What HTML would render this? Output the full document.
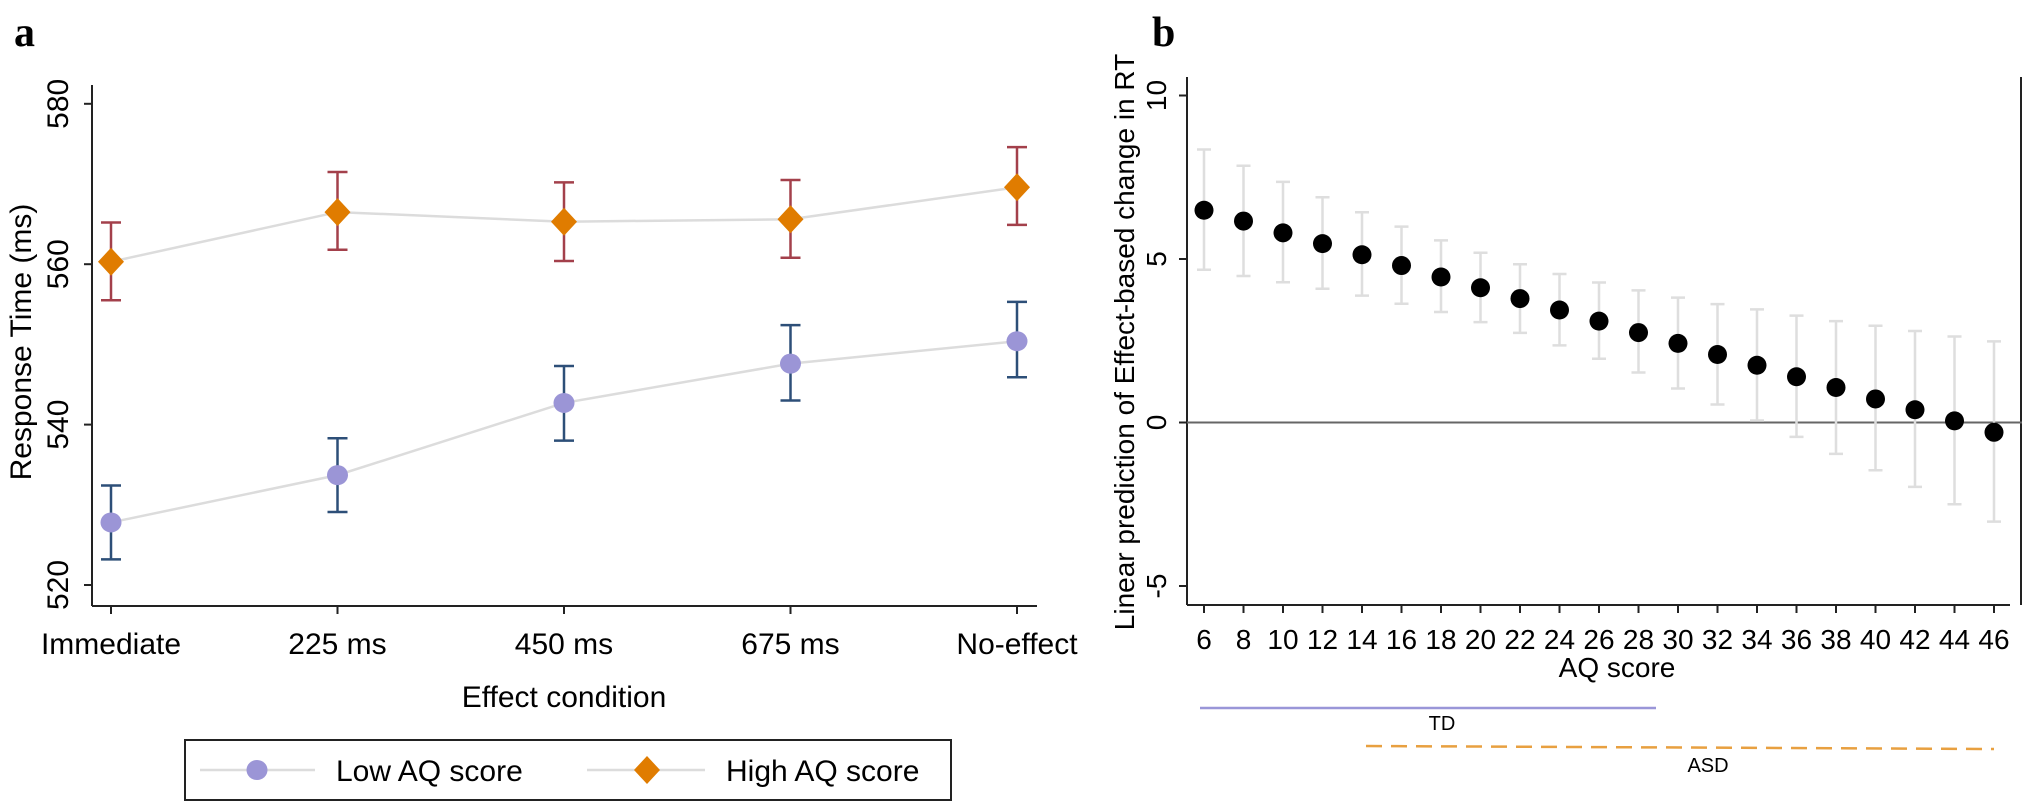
<!DOCTYPE html>
<html><head><meta charset="utf-8"><style>
html,body{margin:0;padding:0;background:#fff;}
svg{display:block;font-family:"Liberation Sans",Arial,sans-serif;}
</style></head><body>
<svg id="fig" width="2024" height="803" viewBox="0 0 2024 803">
<text x="14" y="46" font-family="Liberation Serif,serif" font-weight="bold" font-size="42">a</text>
<text x="1152" y="46" font-family="Liberation Serif,serif" font-weight="bold" font-size="42">b</text>
<g id="pa"></g>
<g id="pb"></g>
</svg>
<script>
// Panel a data
const aCats = ["Immediate","225 ms","450 ms","675 ms","No-effect"];
const aYTicks = [520,540,560,580];
const lowMean = [527.8,533.7,542.7,547.6,550.4];
const lowHi = [532.4,538.3,547.3,552.4,555.3];
const lowLo = [523.2,529.1,538.0,543.0,545.9];
const highMean = [560.3,566.5,565.3,565.6,569.6];
const highHi = [565.2,571.5,570.2,570.5,574.6];
const highLo = [555.5,561.8,560.4,560.8,564.9];
// Panel b data
const bX = [6,8,10,12,14,16,18,20,22,24,26,28,30,32,34,36,38,40,42,44,46];
const bMean = [6.49,6.16,5.80,5.47,5.13,4.80,4.45,4.12,3.79,3.44,3.10,2.75,2.42,2.08,1.75,1.40,1.07,0.72,0.39,0.05,-0.30];
const bHi = [8.35,7.85,7.36,6.89,6.43,5.99,5.57,5.19,4.84,4.54,4.28,4.04,3.82,3.62,3.46,3.27,3.10,2.96,2.80,2.63,2.48];
const bLo = [4.67,4.48,4.29,4.09,3.88,3.63,3.38,3.07,2.74,2.36,1.95,1.53,1.04,0.55,0.06,-0.44,-0.96,-1.46,-1.97,-2.50,-3.03];
const bYTicks = [-5,0,5,10];

const NS="http://www.w3.org/2000/svg";
function mk(parent,tag,attrs,text){const e=document.createElementNS(NS,tag);for(const k in attrs)e.setAttribute(k,attrs[k]);if(text!==undefined)e.textContent=text;parent.appendChild(e);return e;}

// ---- Panel a ----
const pa=document.getElementById('pa');
const ax=i=>111+i*226.5;
const ay=v=>585-(v-520)*8.02;
let e;
e=mk(pa,'line',{x1:92,y1:85,x2:92,y2:606,stroke:'#222','stroke-width':2});

e=mk(pa,'line',{x1:92,y1:606,x2:1037,y2:606,stroke:'#222','stroke-width':2});

aYTicks.forEach(t=>{
  mk(pa,'line',{x1:84,y1:ay(t),x2:92,y2:ay(t),stroke:'#222','stroke-width':2});
  e=mk(pa,'text',{x:0,y:0,'font-size':30,'text-anchor':'middle',transform:`translate(68,${ay(t)}) rotate(-90)`},String(t));
  
});
aCats.forEach((c,i)=>{
  mk(pa,'line',{x1:ax(i),y1:606,x2:ax(i),y2:614,stroke:'#222','stroke-width':2});
  e=mk(pa,'text',{x:ax(i),y:654,'font-size':30,'text-anchor':'middle'},c);
  
});
e=mk(pa,'text',{x:0,y:0,'font-size':30,'text-anchor':'middle',transform:'translate(31,342) rotate(-90)'},'Response Time (ms)');

e=mk(pa,'text',{x:564,y:707,'font-size':30,'text-anchor':'middle'},'Effect condition');

function series(mean,hi,lo,ec,name,shape,fill){
  e=mk(pa,'polyline',{points:mean.map((v,i)=>ax(i)+','+ay(v)).join(' '),fill:'none',stroke:'#dcdcdc','stroke-width':2.5});
  
  mean.forEach((v,i)=>{
    const x=ax(i);
    e=mk(pa,'path',{d:`M${x},${ay(hi[i])}V${ay(lo[i])}M${x-10},${ay(hi[i])}H${x+10}M${x-10},${ay(lo[i])}H${x+10}`,stroke:ec,'stroke-width':2.5,fill:'none'});
    
    const y=ay(v);
    if(shape==='c'){e=mk(pa,'ellipse',{cx:x,cy:y,rx:10.5,ry:10,fill:fill});}
    else{e=mk(pa,'path',{d:`M${x},${y-14}L${x+13},${y}L${x},${y+14}L${x-13},${y}Z`,fill:fill});}
    
  });
}
series(lowMean,lowHi,lowLo,'#2d4f78','low-aq','c','#9b95d6');
series(highMean,highHi,highLo,'#a3404b','high-aq','d','#e07c00');
// legend
const lg=mk(pa,'g',{});

mk(lg,'rect',{x:185,y:740,width:766,height:60,fill:'#fff',stroke:'#222','stroke-width':2});
mk(lg,'line',{x1:200,y1:770,x2:315,y2:770,stroke:'#dcdcdc','stroke-width':2.5});
mk(lg,'ellipse',{cx:257,cy:770,rx:10.5,ry:10,fill:'#9b95d6'});
e=mk(lg,'text',{x:336,y:781,'font-size':30},'Low AQ score');

mk(lg,'line',{x1:587,y1:770,x2:705,y2:770,stroke:'#dcdcdc','stroke-width':2.5});
mk(lg,'path',{d:'M647,756L660,770L647,784L634,770Z',fill:'#e07c00'});
e=mk(lg,'text',{x:726,y:781,'font-size':30},'High AQ score');


// ---- Panel b ----
const pb=document.getElementById('pb');
const bx=v=>1204+(v-6)*19.75;
const by=v=>422.5-v*32.7;
e=mk(pb,'line',{x1:1187,y1:77,x2:1187,y2:605,stroke:'#222','stroke-width':2});

e=mk(pb,'line',{x1:1187,y1:605,x2:2010,y2:605,stroke:'#222','stroke-width':2});

e=mk(pb,'line',{x1:2021,y1:77,x2:2021,y2:605,stroke:'#222','stroke-width':2});

e=mk(pb,'line',{x1:1187,y1:by(0),x2:2022,y2:by(0),stroke:'#666','stroke-width':2});

bYTicks.forEach(t=>{
  mk(pb,'line',{x1:1179,y1:by(t),x2:1187,y2:by(t),stroke:'#222','stroke-width':2});
  e=mk(pb,'text',{x:0,y:0,'font-size':28,'text-anchor':'middle',transform:`translate(1166,${by(t)}) rotate(-90)`},String(t));
  
});
bX.forEach(v=>{
  mk(pb,'line',{x1:bx(v),y1:605,x2:bx(v),y2:613,stroke:'#222','stroke-width':2});
  e=mk(pb,'text',{x:bx(v),y:649,'font-size':28,'text-anchor':'middle'},String(v));
  
});
e=mk(pb,'text',{x:0,y:0,'font-size':28,'text-anchor':'middle',transform:'translate(1134,342) rotate(-90)'},'Linear prediction of Effect-based change in RT');

e=mk(pb,'text',{x:1617,y:677,'font-size':28,'text-anchor':'middle'},'AQ score');

bX.forEach((v,i)=>{
  const x=bx(v);
  e=mk(pb,'path',{d:`M${x},${by(bHi[i])}V${by(bLo[i])}M${x-7},${by(bHi[i])}H${x+7}M${x-7},${by(bLo[i])}H${x+7}`,stroke:'#dedede','stroke-width':2.5,fill:'none'});
  
  e=mk(pb,'ellipse',{cx:x,cy:by(bMean[i]),rx:9.5,ry:9.5,fill:'#000'});
  
});
e=mk(pb,'line',{x1:1200,y1:708,x2:1656,y2:708,stroke:'#9a96d8','stroke-width':2.5});

e=mk(pb,'text',{x:1442,y:730,'font-size':20,'text-anchor':'middle'},'TD');

e=mk(pb,'line',{x1:1366,y1:746,x2:1994,y2:749,stroke:'#e8a040','stroke-width':2.5,'stroke-dasharray':'16,9'});

e=mk(pb,'text',{x:1708,y:772,'font-size':20,'text-anchor':'middle'},'ASD');

</script>
</body></html>
